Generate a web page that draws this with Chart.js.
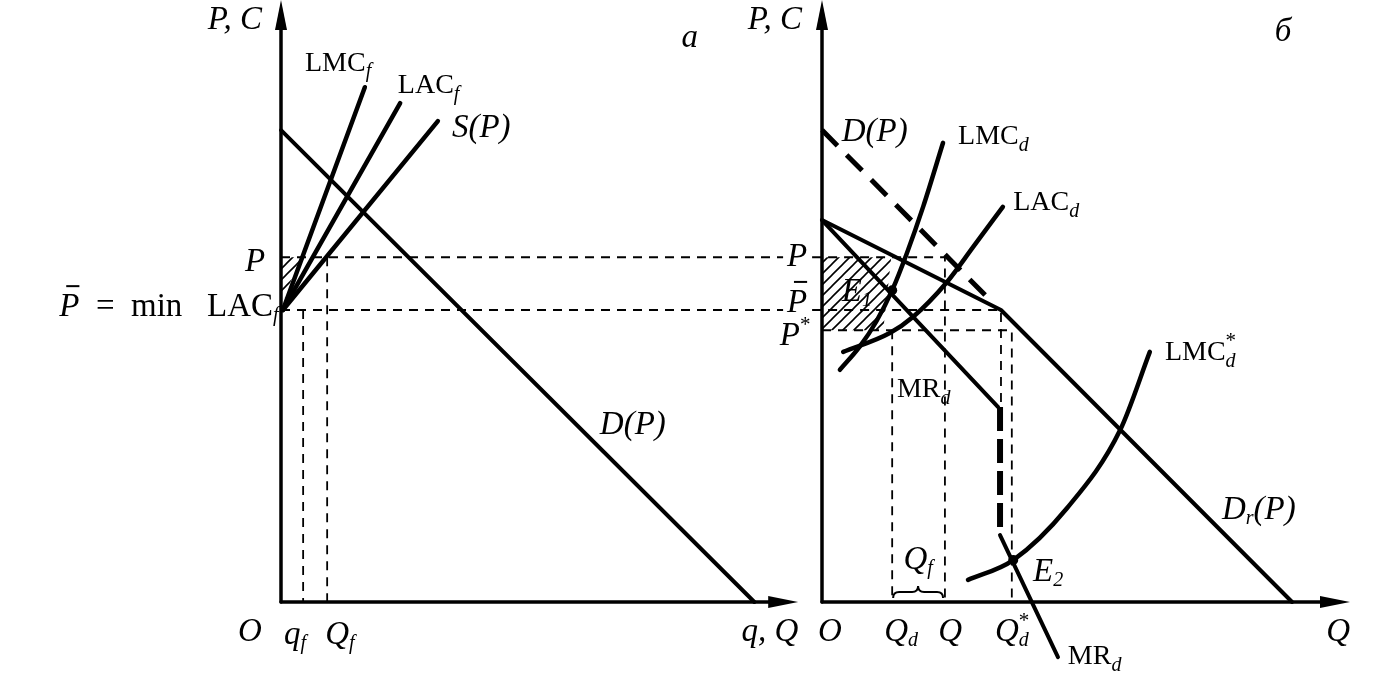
<!DOCTYPE html>
<html>
<head>
<meta charset="utf-8">
<title>Dominant firm and competitive fringe</title>
<script src="https://cdn.jsdelivr.net/npm/chart.js@4.4.1/dist/chart.umd.min.js"></script>
<style>
  body { margin: 0; background: #fff; }
  #wrap { position: relative; width: 1378px; height: 684px; }
  canvas { position: absolute; top: 0; }
  #ca { left: 0; }
  #cb { left: 700px; }
</style>
</head>
<body>
<div id="wrap">
  <canvas id="ca" width="810" height="684"></canvas>
  <canvas id="cb" width="678" height="684"></canvas>
</div>
<script>
// values in the diagram's own units: [q, P]
// panel a: competitive fringe + market demand
const demandA = [[0, 10.02], [10.05, 0]];
const lmcF = [[0.04, 6.2], [1.78, 10.93]];
const lacF = [[0.04, 6.2], [2.53, 10.59]];
const supplyA = [[0.04, 6.2], [3.33, 10.21]];
const hatchA = [[0, 7.32], [0.42, 7.32], [0.06, 6.45], [0, 6.6]];

// price levels and quantities
const priceP = 7.32;
const priceBar = 6.20;
const priceStar = 5.77;
const qf = 0.47;
const Qf = 0.98;

// panel b: dominant firm
const demandB = [[0, 10.02], [3.48, 6.5]];
const residualB = [[0, 8.11], [3.80, 6.20], [9.98, 0]];
const mrUpper = [[0, 8.11], [3.74, 4.14]];
const mrGap = [[3.78, 4.14], [3.78, 1.59]];
const mrLower = [[3.78, 1.42], [5.01, -1.17]];
const lmcD = [[0.38, 4.93], [0.80, 5.42], [1.15, 5.95], [1.49, 6.62], [1.80, 7.40], [2.15, 8.40], [2.57, 9.75]];
const lacD = [[0.45, 5.31], [1.44, 5.71], [1.93, 6.05], [2.65, 6.79], [3.21, 7.54], [3.84, 8.39]];
const lmcStar = [[3.10, 0.47], [4.06, 0.89], [5.20, 1.99], [6.33, 3.65], [6.96, 5.31]];
const hatchB = [[0, 7.32], [1.47, 7.32], [1.30, 5.77], [0, 5.77]];
const Qd = 1.49;
const Qb = 2.61;
const Qkink = 3.80;
const QdStar = 4.03;
const eqPoints = [[1.49, 6.62], [4.06, 0.89]];
const braceQf = [1.51, 2.57, 0.21];

const PX = 47.1;   // pixels per unit
const H = 684;
const SERIF = '"Liberation Serif", "DejaVu Serif", serif';

// labels: [q, P, align, parts]; part style: i italic, r roman, R big roman, s subscript, u stacked sup, U sup, b barred
const labelsA = [
  [-0.98, 12.36, 'c', [['P, C', 'i']]],
  [8.68, 11.97, 'c', [['a', 'i']]],
  [0.51, 11.44, 'l', [['LMC', 'r'], ['f', 's']]],
  [2.48, 10.97, 'l', [['LAC', 'r'], ['f', 's']]],
  [3.63, 10.06, 'l', [['S(P)', 'i']]],
  [-0.55, 7.22, 'c', [['P', 'i']]],
  [-0.05, 6.26, 'r', [['P', 'b'], ['  =  ', 'R'], ['min   ', 'R'], ['LAC', 'R'], ['f', 's']]],
  [6.77, 3.76, 'l', [['D(P)', 'i']]],
  [-0.66, -0.64, 'c', [['O', 'i']]],
  [0.30, -0.70, 'c', [['q', 'i'], ['f', 's']]],
  [1.25, -0.70, 'c', [['Q', 'i'], ['f', 's']]],
  [10.38, -0.64, 'c', [['q, Q', 'i']]]
];
const labelsB = [
  [-1.0, 12.36, 'c', [['P, C', 'i']]],
  [9.79, 12.10, 'c', [['б', 'i']]],
  [0.42, 9.98, 'l', [['D(P)', 'i']]],
  [2.89, 9.87, 'l', [['LMC', 'r'], ['d', 's']]],
  [4.06, 8.47, 'l', [['LAC', 'r'], ['d', 's']]],
  [-0.53, 7.32, 'c', [['P', 'i']]],
  [-0.53, 6.35, 'c', [['P', 'b']]],
  [-0.57, 5.63, 'c', [['P', 'i'], ['*', 'U']]],
  [0.42, 6.58, 'l', [['E', 'i'], ['1', 's']]],
  [1.59, 4.50, 'l', [['MR', 'r'], ['d', 's']]],
  [7.28, 5.29, 'l', [['LMC', 'r'], ['*', 'u'], ['d', 's']]],
  [8.49, 1.95, 'l', [['D', 'i'], ['r', 's'], ['(P)', 'i']]],
  [2.04, 0.89, 'c', [['Q', 'i'], ['f', 's']]],
  [4.48, 0.64, 'l', [['E', 'i'], ['2', 's']]],
  [0.17, -0.64, 'c', [['O', 'i']]],
  [1.68, -0.64, 'c', [['Q', 'i'], ['d', 's']]],
  [2.72, -0.64, 'c', [['Q', 'i']]],
  [4.03, -0.64, 'c', [['Q', 'i'], ['*', 'u'], ['d', 's']]],
  [5.22, -1.17, 'l', [['MR', 'r'], ['d', 's']]],
  [10.96, -0.64, 'c', [['Q', 'i']]]
];

const FONTS = {
  i: 'italic 33px ' + SERIF, b: 'italic 33px ' + SERIF, r: '28px ' + SERIF, R: '33px ' + SERIF,
  s: 'italic 20px ' + SERIF, u: '21px ' + SERIF, U: '21px ' + SERIF
};
const SHIFT = { i: 0, b: 0, r: 0, R: 0, s: 9, u: -11, U: -11 };

// diagonal hatching
const hatchCanvas = document.createElement('canvas');
hatchCanvas.width = 11; hatchCanvas.height = 11;
const hc = hatchCanvas.getContext('2d');
hc.strokeStyle = '#000'; hc.lineWidth = 1.6;
hc.beginPath();
hc.moveTo(0, 11); hc.lineTo(11, 0);
hc.moveTo(-1, 1); hc.lineTo(1, -1);
hc.moveTo(10, 12); hc.lineTo(12, 10);
hc.stroke();
const hatch = hc.createPattern(hatchCanvas, 'repeat');

function line(pts, width, dash, extra) {
  return Object.assign({
    data: pts.map(([x, y]) => ({ x, y })),
    borderColor: '#000', borderWidth: width, borderDash: dash || [],
    borderCapStyle: dash ? 'butt' : 'round', borderJoinStyle: 'round',
    pointRadius: 0, showLine: true, fill: false, tension: 0, clip: false
  }, extra || {});
}
const thin = [9, 7];
const smooth = { cubicInterpolationMode: 'monotone' };

function drawLabel(ctx, px, py, align, parts) {
  const widths = parts.map(([t, st]) => {
    ctx.font = FONTS[st];
    return st === 'u' ? 0 : ctx.measureText(t).width;
  });
  const total = widths.reduce((a, b) => a + b, 0);
  let x = align === 'l' ? px : align === 'r' ? px - total : px - total / 2;
  ctx.textBaseline = 'middle';
  ctx.textAlign = 'left';
  parts.forEach(([t, st], k) => {
    ctx.font = FONTS[st];
    ctx.fillText(t, x, py + SHIFT[st]);
    if (st === 'b') ctx.fillRect(x + 7, py - 22, widths[k] - 7, 2);
    x += widths[k];
  });
}

function arrow(ctx, px, py, dir) {
  ctx.beginPath();
  if (dir === 'r') { ctx.moveTo(px, py); ctx.lineTo(px - 30, py - 6); ctx.lineTo(px - 30, py + 6); }
  else { ctx.moveTo(px, py); ctx.lineTo(px - 6, py + 30); ctx.lineTo(px + 6, py + 30); }
  ctx.closePath();
  ctx.fill();
}

function brace(ctx, x1, x2, y) {
  const m = (x1 + x2) / 2;
  ctx.beginPath();
  ctx.moveTo(x1, y + 6);
  ctx.quadraticCurveTo(x1, y, x1 + 6, y);
  ctx.lineTo(m - 6, y);
  ctx.quadraticCurveTo(m, y, m, y - 6);
  ctx.quadraticCurveTo(m, y, m + 6, y);
  ctx.lineTo(x2 - 6, y);
  ctx.quadraticCurveTo(x2, y, x2, y + 6);
  ctx.lineWidth = 2;
  ctx.stroke();
}

function makePanel(id, width, ox, oy, datasets, labels, axisEnds, extra) {
  new Chart(document.getElementById(id), {
    type: 'scatter',
    data: { datasets },
    options: {
      responsive: false,
      animation: false,
      events: [],
      layout: { padding: 0, autoPadding: false },
      plugins: { legend: { display: false }, tooltip: { enabled: false } },
      scales: {
        x: { type: 'linear', display: false, min: -ox / PX, max: (width - ox) / PX },
        y: { type: 'linear', display: false, min: -(H - oy) / PX, max: oy / PX }
      }
    },
    plugins: [{
      id: 'marks',
      afterDatasetsDraw(chart) {
        const ctx = chart.ctx;
        const xs = chart.scales.x, ys = chart.scales.y;
        ctx.save();
        ctx.fillStyle = '#000';
        ctx.strokeStyle = '#000';
        arrow(ctx, xs.getPixelForValue(axisEnds[0]), ys.getPixelForValue(0), 'r');
        arrow(ctx, xs.getPixelForValue(0), ys.getPixelForValue(axisEnds[1]), 'u');
        if (extra) extra(ctx, xs, ys);
        labels.forEach(([u, v, al, parts]) => drawLabel(ctx, xs.getPixelForValue(u), ys.getPixelForValue(v), al, parts));
        ctx.restore();
      }
    }]
  });
}

// panel a
const axisA = [10.98, 12.78];
makePanel('ca', 810, 281, 602, [
  line([[0, 0], [axisA[0] - 0.3, 0]], 3.5),
  line([[0, 0], [0, axisA[1] - 0.3]], 3.5),
  line(hatchA, 0, null, { fill: 'shape', backgroundColor: hatch }),
  line(demandA, 4),
  line(lmcF, 4.5),
  line(lacF, 4.5),
  line(supplyA, 4.5),
  line([[0, priceP], [10.66, priceP]], 1.8, thin),
  line([[0, priceBar], [10.66, priceBar]], 1.8, thin),
  line([[qf, priceBar], [qf, 0]], 1.8, thin),
  line([[Qf, priceP], [Qf, 0]], 1.8, thin)
], labelsA, axisA);

// panel b
const axisB = [11.21, 12.78];
makePanel('cb', 678, 122, 602, [
  line([[0, 0], [axisB[0] - 0.3, 0]], 3.5),
  line([[0, 0], [0, axisB[1] - 0.3]], 3.5),
  line(hatchB, 0, null, { fill: 'shape', backgroundColor: hatch }),
  line(demandB, 5, [22, 13]),
  line(residualB, 4),
  line(mrUpper, 4),
  line(mrGap, 6, [24, 8]),
  line(mrLower, 4),
  line(lmcD, 4.5, null, smooth),
  line(lacD, 4.5, null, smooth),
  line(lmcStar, 4.5, null, smooth),
  line([[-0.21, priceP], [Qb, priceP], [Qb, 0]], 1.8, thin),
  line([[-0.21, priceBar], [Qkink, priceBar], [Qkink, 4.14]], 1.8, thin),
  line([[0, priceStar], [QdStar, priceStar], [QdStar, 0]], 1.8, thin),
  line([[Qd, priceStar], [Qd, 0]], 1.8, thin),
  { data: eqPoints.map(([x, y]) => ({ x, y })), pointRadius: 5, pointBackgroundColor: '#000', pointBorderWidth: 0, showLine: false, clip: false }
], labelsB, axisB, (ctx, xs, ys) => {
  brace(ctx, xs.getPixelForValue(braceQf[0]), xs.getPixelForValue(braceQf[1]), ys.getPixelForValue(braceQf[2]));
});
</script>
</body>
</html>
